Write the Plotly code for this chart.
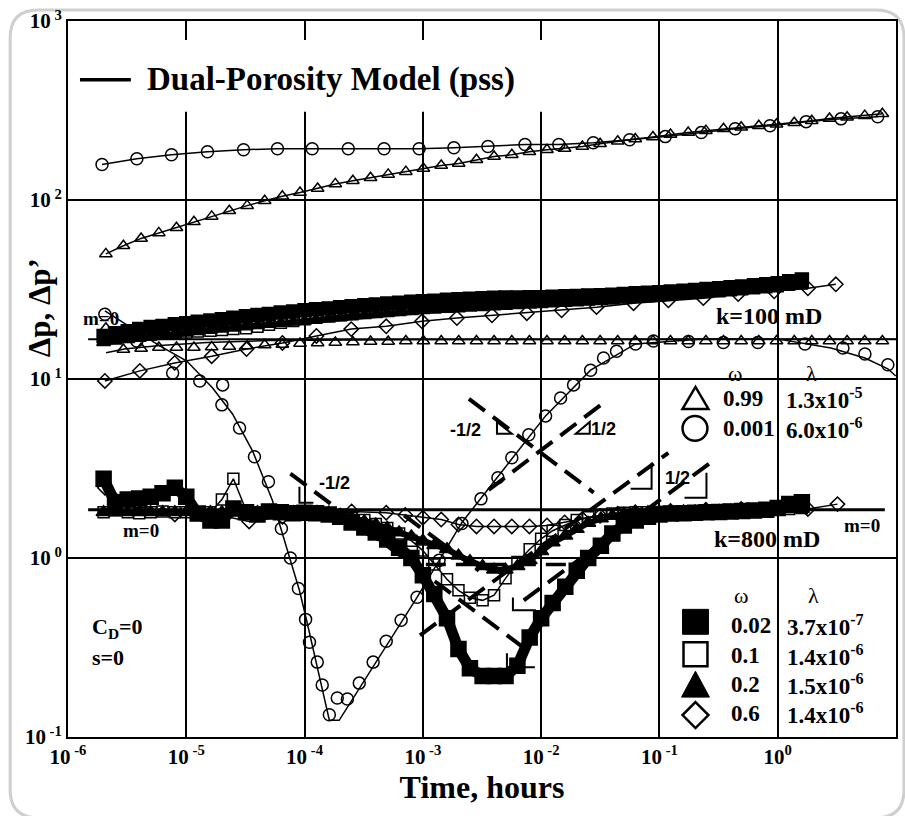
import plotly.graph_objects as go

# ---------------------------------------------------------------------------
# k = 100 mD runs
# ---------------------------------------------------------------------------
# omega = 0.99, lambda = 1.3e-5  (open triangles)
T_TRI = [2.09e-6, 2.94e-6, 4.15e-6, 5.86e-6, 8.26e-6, 1.16e-5, 1.64e-5, 2.31e-5,
         3.27e-5, 4.6e-5, 6.49e-5, 9.15e-5, 1.29e-4, 1.82e-4, 2.56e-4, 3.61e-4,
         5.09e-4, 7.18e-4, 1.01e-3, 1.43e-3, 2.01e-3, 2.84e-3, 4.0e-3, 5.65e-3,
         7.96e-3, 1.12e-2, 1.58e-2, 2.23e-2, 3.15e-2, 4.44e-2, 6.25e-2, 8.81e-2,
         0.124, 0.175, 0.247, 0.348, 0.491, 0.692, 0.977, 1.38, 1.94, 2.74, 3.86,
         5.44, 7.67]
DP_TRI_099 = [50, 55.5, 61, 65.5, 70, 75.5, 81, 87, 93, 99, 105, 110, 116, 123,
              128, 133, 139, 144, 150, 156, 160, 168, 175, 179, 186, 191, 194,
              199, 206, 213, 219, 225, 232, 238, 244, 250, 255, 260, 265, 270,
              277, 285, 290, 296, 303]
DER_TRI_099 = [19.2, 14.6, 14.8, 15.0, 15.0, 15.0, 15.1, 15.2, 15.3, 15.5, 15.6,
               15.8, 15.9, 16.0, 16.1, 16.2, 16.2, 16.3, 16.3, 16.3, 16.3, 16.3,
               16.3, 16.3, 16.3, 16.3, 16.3, 16.3, 16.3, 16.3, 16.3, 16.3, 16.3,
               16.3, 16.3, 16.3, 16.3, 16.3, 16.3, 16.3, 16.3, 16.3, 16.3, 16.3,
               16.3]
T_TRI_MODEL = [2.1e-6, 3.0e-6, 6.0e-6, 1.5e-5, 5.0e-5, 1.0e-3, 10.0]
DER_TRI_MODEL = [14.0, 14.7, 15.4, 16.0, 16.4, 16.6, 16.7]

# omega = 0.001, lambda = 6.0e-6  (open circles)
T_CIR_DP = [1.94e-6, 3.82e-6, 7.5e-6, 1.51e-5, 3.05e-5, 5.9e-5, 1.16e-4, 2.34e-4,
            4.7e-4, 9.3e-4, 1.83e-3, 3.55e-3, 7.3e-3, 1.41e-2, 2.76e-2, 5.6e-2,
            0.112, 0.226, 0.437, 0.86, 1.74, 3.43, 7.0]
DP_CIR_0001 = [158, 170, 179, 186, 191, 193.5, 193.5, 193.5, 193.5, 193.5, 196,
               199, 204, 204, 209, 217, 226, 238, 250, 260, 274, 284, 292]

T_CIR_DER = [2.05e-6, 3.82e-6, 7.67e-6, 1.3e-5, 2.0e-5, 2.03e-5, 2.82e-5, 3.77e-5,
             4.95e-5, 6.37e-5, 7.59e-5, 8.87e-5, 1.02e-4, 1.1e-4, 1.28e-4, 1.41e-4,
             1.62e-4, 1.89e-4, 2.3e-4, 2.9e-4, 3.8e-4, 4.9e-4, 6.55e-4, 8.93e-4,
             1.37e-3, 2.14e-3, 3.1e-3, 4.31e-3, 5.65e-3, 7.86e-3, 1.09e-2, 1.46e-2,
             1.88e-2, 2.62e-2, 3.37e-2, 4.34e-2, 6.28e-2, 8.9e-2, 0.176, 0.347,
             0.68, 1.70, 3.56, 5.46, 8.53]
DER_CIR_0001 = [23.0, 16.3, 10.8, 9.75, 7.17, 9.27, 5.33, 3.68, 2.67, 1.46, 1.0,
                0.676, 0.454, 0.338, 0.262, 0.195, 0.133, 0.165, 0.163, 0.2,
                0.262, 0.343, 0.449, 0.603, 0.97, 1.56, 2.14, 2.81, 3.63, 4.88,
                6.22, 7.84, 9.27, 11.2, 13.1, 14.3, 15.7, 16.3, 16.2, 16.0, 16.0,
                15.7, 14.9, 13.8, 12.0]
T_CIR_MODEL = [2.05e-6, 5.97e-6, 1.01e-5, 1.67e-5, 2.46e-5, 3.63e-5, 5.36e-5,
               7.44e-5, 9.04e-5, 1.04e-4, 1.62e-4, 1.96e-4, 8.93e-4, 2.14e-3,
               1.09e-2, 2.62e-2, 6.28e-2, 0.213, 1.01, 2.82, 5.46, 8.53, 9.95]
DER_CIR_MODEL = [24.0, 15.3, 12.6, 8.9, 6.38, 3.97, 2.09, 1.0, 0.66, 0.449,
                 0.124, 0.124, 0.603, 1.58, 6.22, 11.2, 15.7, 16.7, 16.7, 14.9,
                 13.1, 11.4, 10.4]

# ---------------------------------------------------------------------------
# k = 800 mD runs (shared time steps for the dense series)
# ---------------------------------------------------------------------------
T800 = [2e-6, 2.5e-6, 3.2e-6, 4e-6, 5e-6, 6.3e-6, 8e-6,
        1e-5, 1.25e-5, 1.6e-5, 2e-5, 2.5e-5, 3.2e-5, 4e-5, 5e-5, 6.3e-5, 8e-5,
        1e-4, 1.25e-4, 1.6e-4, 2e-4, 2.5e-4, 3.2e-4, 4e-4, 5e-4, 6.3e-4, 8e-4,
        1e-3, 1.25e-3, 1.6e-3, 2e-3, 2.5e-3, 3.2e-3, 4e-3, 5e-3, 6.3e-3, 8e-3,
        1e-2, 1.25e-2, 1.6e-2, 2e-2, 2.5e-2, 3.2e-2, 4e-2, 5e-2, 6.3e-2, 8e-2,
        0.1, 0.125, 0.16, 0.2, 0.25, 0.32, 0.4, 0.5, 0.63, 0.8,
        1.0, 1.25, 1.6]

# omega = 0.02, lambda = 3.7e-7 (filled squares)
DP_SQF_002 = [17.4, 18.0, 18.5, 19.0, 19.5, 19.8, 20.2,
              20.5, 20.9, 21.2, 21.6, 22.0, 22.4, 22.8, 23.1, 23.5, 23.8,
              24.2, 24.5, 24.8, 25.2, 25.5, 25.8, 26.1, 26.4, 26.7, 27.0,
              27.2, 27.4, 27.7, 27.9, 28.1, 28.3, 28.4, 28.5, 28.5, 28.6,
              28.6, 28.8, 29.0, 29.1, 29.3, 29.4, 29.6, 29.8, 30.1, 30.3,
              30.5, 30.8, 31.1, 31.4, 31.8, 32.1, 32.5, 32.9, 33.4, 33.8,
              34.3, 35.2, 36.0]
DER_SQF_002 = [2.77, 2.05, 2.12, 2.15, 2.2, 2.3, 2.47,
               2.2, 1.77, 1.62, 1.62, 1.89, 1.8, 1.75, 1.82, 1.8, 1.78,
               1.79, 1.78, 1.75, 1.70, 1.58, 1.48, 1.39, 1.27, 1.14, 1.0,
               0.8, 0.63, 0.46, 0.31, 0.242, 0.219, 0.219, 0.219, 0.25, 0.36,
               0.46, 0.56, 0.69, 0.85, 1.0, 1.17, 1.37, 1.52, 1.62, 1.7,
               1.75, 1.77, 1.78, 1.79, 1.8, 1.81, 1.82, 1.83, 1.84, 1.86,
               1.9, 2.0, 2.05]

# omega = 0.1, lambda = 1.4e-6 (open squares)
DP_SQO_01 = [16.8, 17.1, 17.3, 17.5, 17.7, 17.9, 18.0,
             18.2, 18.4, 18.6, 18.8, 19.0, 19.2, 19.6, 20.1, 20.6, 21.1,
             21.6, 22.0, 22.4, 22.8, 23.2, 23.6, 24.0, 24.3, 24.6, 24.9,
             25.2, 25.5, 25.7, 25.9, 26.1, 26.3, 26.5, 26.7, 26.9, 27.0,
             27.2, 27.4, 27.6, 27.8, 28.0, 28.3, 28.5, 28.7, 28.9, 29.1,
             29.4, 29.7, 30.0, 30.3, 30.6, 30.9, 31.3, 31.7, 32.1, 32.5,
             33.0, 33.6, 34.2]
DER_SQO_01 = [1.8, 1.85, 1.8, 1.78, 1.8, 1.82, 1.8,
              1.8, 1.78, 1.8, 2.12, 2.77, 1.85, 1.8, 1.8, 1.79, 1.79,
              1.79, 1.78, 1.77, 1.72, 1.68, 1.63, 1.55, 1.47, 1.37, 1.25,
              1.1, 0.92, 0.76, 0.66, 0.6, 0.58, 0.62, 0.77, 0.95, 1.12,
              1.28, 1.42, 1.53, 1.63, 1.69, 1.74, 1.77, 1.79, 1.8, 1.8,
              1.81, 1.81, 1.82, 1.82, 1.83, 1.83, 1.84, 1.84, 1.85, 1.86,
              1.87, 1.88, 1.9]

# omega = 0.2, lambda = 1.5e-6 (filled triangles)
DP_TRF_02 = [16.0, 16.3, 16.6, 16.9, 17.2, 17.5, 17.8,
             18.1, 18.4, 18.7, 19.0, 19.3, 19.6, 19.9, 20.2, 20.5, 20.8,
             21.1, 21.4, 21.7, 22.0, 22.3, 22.6, 22.9, 23.2, 23.5, 23.8,
             24.1, 24.3, 24.5, 24.7, 24.9, 25.1, 25.3, 25.5, 25.7, 25.9,
             26.1, 26.3, 26.5, 26.7, 26.9, 27.1, 27.3, 27.6, 27.9, 28.2,
             28.5, 28.8, 29.1, 29.4, 29.8, 30.2, 30.6, 31.0, 31.5, 32.0,
             32.5, 33.0, 33.5]
DER_TRF_02 = [1.8, 1.8, 1.8, 1.8, 1.8, 1.8, 1.8,
              1.8, 1.8, 1.8, 1.8, 1.8, 1.8, 1.8, 1.8, 1.8, 1.8,
              1.8, 1.8, 1.79, 1.74, 1.69, 1.6, 1.54, 1.47, 1.39, 1.32,
              1.25, 1.18, 1.12, 1.03, 0.96, 0.9, 0.86, 0.86, 0.9, 0.97,
              1.09, 1.22, 1.33, 1.45, 1.57, 1.66, 1.72, 1.76, 1.79, 1.8,
              1.81, 1.81, 1.82, 1.82, 1.83, 1.83, 1.84, 1.84, 1.85, 1.85,
              1.86, 1.87, 1.88]

# omega = 0.6, lambda = 1.4e-6 (open diamonds)
T_DIA_DP = [2.05e-6, 4.05e-6, 7.98e-6, 1.64e-5, 3.23e-5, 6.5e-5, 1.26e-4, 2.48e-4,
            4.9e-4, 9.84e-4, 1.94e-3, 3.84e-3, 7.57e-3, 1.49e-2, 2.94e-2, 6.04e-2,
            0.119, 0.235, 0.463, 0.933, 1.8, 3.1]
DP_DIA_06 = [9.75, 11.1, 12.3, 13.4, 14.7, 15.9, 17.4, 19.0, 19.7, 21.0, 21.9,
             22.7, 23.3, 24.2, 25.2, 26.5, 27.5, 28.3, 29.8, 30.9, 32.1, 33.8]
T_DIA_DER = [2.05e-6, 4.05e-6, 8e-6, 1.6e-5, 3.4e-5, 6.5e-5, 1.28e-4, 2.5e-4,
             4.9e-4, 7.1e-4, 1.0e-3, 1.43e-3, 2.0e-3, 2.84e-3, 4.0e-3, 5.65e-3,
             7.96e-3, 1.12e-2, 1.58e-2, 2.23e-2, 3.15e-2, 4.44e-2, 6.25e-2,
             0.124, 0.247, 0.491, 0.977, 1.8, 3.2]
DER_DIA_06 = [2.47, 1.94, 1.75, 1.78, 1.6, 1.7, 1.79, 1.82, 1.79, 1.74, 1.68,
              1.64, 1.54, 1.5, 1.5, 1.5, 1.5, 1.52, 1.58, 1.65, 1.72, 1.77, 1.8,
              1.83, 1.86, 1.88, 1.9, 1.88, 2.0]

# ---------------------------------------------------------------------------
# Straight-line flow-regime guides
# ---------------------------------------------------------------------------
M0_K100_T, M0_K100_V = [1.48e-6, 10.0], [16.7, 16.7]
M0_K800_T, M0_K800_V = [1.48e-6, 8.05], [1.86, 1.86]
HALF_GUIDES = {
    "neg_a": ([2.45e-3, 2.78e-2], [7.74, 2.32]),
    "pos_b": ([3.6e-3, 3.5e-2], [2.4, 7.5]),
    "pos_c": ([9.46e-4, 0.119], [0.37, 3.87]),
    "neg_d": ([7.59e-5, 8.0e-3], [2.96, 0.298]),
    "neg_e": ([6.95e-4, 2.98e-3], [1.73, 0.85]),
    "pos_f": ([7.13e-3, 0.269], [0.58, 3.4]),
}
FLAT_DASH_T, FLAT_DASH_V = [1.06e-3, 2.2e-2], [0.92, 0.92]

X_TICKS = [1e-6, 1e-5, 1e-4, 1e-3, 1e-2, 1e-1, 1e0, 1e1]
X_TICK_TEXT = ["10<sup> -6</sup>", "10<sup> -5</sup>", "10<sup> -4</sup>",
               "10<sup> -3</sup>", "10<sup> -2</sup>", "10<sup> -1</sup>",
               "10<sup>0</sup>", "10<sup> 1</sup>"]
Y_TICKS = [1e-1, 1e0, 1e1, 1e2, 1e3]
Y_TICK_TEXT = ["10<sup> -1</sup>", "10<sup> 0</sup>", "10<sup> 1</sup>",
               "10<sup> 2</sup>", "10<sup> 3</sup>"]

# ---------------------------------------------------------------------------
W, H = 905, 816
ML, MR, MT, MB = 68, 7, 19, 79
PW, PH = W - ML - MR, H - MT - MB
SERIF = "Liberation Serif"
SANS = "Liberation Sans"
INK = "black"


def px(x):
    return (x - ML) / PW


def py(y):
    return (H - MB - y) / PH


fig = go.Figure()


def markers(t, v, symbol, size, lw=1.5, line=None):
    mode = "markers" if line is None else "lines+markers"
    fig.add_trace(go.Scatter(
        x=t, y=v, mode=mode,
        marker=dict(symbol=symbol, size=size, color=INK,
                    line=dict(color=INK, width=lw)),
        line=dict(color=INK, width=line or 1),
        hoverinfo="skip"))


def guide(t, v, width=3, dash=None):
    fig.add_trace(go.Scatter(x=t, y=v, mode="lines",
                             line=dict(color=INK, width=width, dash=dash),
                             hoverinfo="skip"))


# guides under the data
guide(M0_K800_T, M0_K800_V, width=3)
guide(M0_K100_T, M0_K100_V, width=2)
guide(FLAT_DASH_T, FLAT_DASH_V, width=3.5, dash="20px,10px")
for t, v in HALF_GUIDES.values():
    guide(t, v, width=4, dash="20px,10px")

# k = 800 mD: pressure change and derivative
markers(T800, DP_SQF_002, "square", 13, line=9)
markers(T800, DP_TRF_02, "triangle-up", 12, line=6)
markers(T800, DP_SQO_01, "square-open", 11, line=1)
markers(T800, DER_SQF_002, "square", 15, line=11)
markers(T800, DER_TRF_02, "triangle-up", 13, line=6)
markers(T800, DER_SQO_01, "square-open", 11, line=1.5)
markers(T_DIA_DP, DP_DIA_06, "diamond-open", 11, line=1.5)
markers(T_DIA_DER, DER_DIA_06, "diamond-open", 11, line=1.5)

# k = 100 mD: pressure change and derivative
markers(T_TRI, DP_TRI_099, "triangle-up-open", 11, line=1.5)
markers(T_CIR_DP, DP_CIR_0001, "circle-open", 12, line=1.5)
guide(T_TRI_MODEL, DER_TRI_MODEL, width=1.5)
markers(T_TRI, DER_TRI_099, "triangle-up-open", 11)
guide(T_CIR_MODEL, DER_CIR_MODEL, width=1.5)
markers(T_CIR_DER, DER_CIR_0001, "circle-open", 12)

axis_common = dict(
    type="log", showgrid=True, gridcolor=INK, gridwidth=2,
    showline=True, linecolor=INK, linewidth=2, mirror=True,
    ticks="", zeroline=False,
    tickfont=dict(family=SERIF, size=21, color=INK, weight="bold"),
)
fig.update_xaxes(range=[-6, 1], tickvals=X_TICKS, ticktext=X_TICK_TEXT,
                 title=dict(text="Time, hours", standoff=2,
                            font=dict(family=SERIF, size=32, color=INK,
                                      weight="bold")),
                 **axis_common)
fig.update_yaxes(range=[-1, 3], tickvals=Y_TICKS, ticktext=Y_TICK_TEXT,
                 **axis_common)

shapes = []
# rounded frame around the figure
x0, y0, x1, y1, r = px(10), py(8), px(906), py(818), 28
rx, ry = r / PW, r / PH
frame = (f"M {x0 + rx},{y0} L {x1 - rx},{y0} Q {x1},{y0} {x1},{y0 - ry} "
         f"L {x1},{y1 + ry} Q {x1},{y1} {x1 - rx},{y1} L {x0 + rx},{y1} "
         f"Q {x0},{y1} {x0},{y1 + ry} L {x0},{y0 - ry} Q {x0},{y0} {x0 + rx},{y0} Z")
shapes.append(dict(type="path", path=frame, xref="paper", yref="paper",
                   line=dict(color="#cfcfcf", width=3), layer="below"))
# clear panel behind the model key
shapes.append(dict(type="rect", xref="paper", yref="paper",
                   x0=px(70), x1=px(546), y0=py(38), y1=py(110),
                   fillcolor="white", line=dict(width=0), layer="above"))
shapes.append(dict(type="line", xref="paper", yref="paper",
                   x0=px(80), x1=px(131), y0=py(78), y1=py(78),
                   line=dict(color=INK, width=3.5), layer="above"))


def outline(points, width=2, fill=None, closed=False):
    d = "M " + " L ".join(f"{px(a)},{py(b)}" for a, b in points)
    if closed:
        d += " Z"
    shapes.append(dict(type="path", path=d, xref="paper", yref="paper",
                       line=dict(color=INK, width=width),
                       fillcolor=fill or "rgba(0,0,0,0)", layer="above"))


# small slope-indicator ticks beside the half-slope guides
outline([(300, 486), (300, 502), (314, 502)])
outline([(498, 421), (498, 433), (513, 433)], closed=True)
outline([(591, 421), (591, 433), (577, 433)], closed=True)
outline([(653, 462), (653, 488), (632, 488)])
outline([(708, 472), (708, 497), (686, 497)])
outline([(514, 597), (514, 610), (537, 610)])
outline([(508, 653), (508, 667), (536, 667)])

# key symbols (k = 100 block)
outline([(684, 408), (710, 408), (697, 386)], width=2.5, closed=True)
shapes.append(dict(type="circle", xref="paper", yref="paper",
                   x0=px(684), x1=px(709), y0=py(415), y1=py(440),
                   line=dict(color=INK, width=2.5), layer="above"))
# key symbols (k = 800 block)
outline([(684, 609), (710, 609), (710, 634), (684, 634)], width=1,
        fill=INK, closed=True)
outline([(685, 642), (709, 642), (709, 666), (685, 666)], width=2.5,
        closed=True)
outline([(683, 697), (711, 697), (697, 671)], width=1, fill=INK, closed=True)
outline([(697, 702), (710, 715), (697, 728), (684, 715)], width=2.5,
        closed=True)

ann = []


def text(s, x, y, size=20, anchor="center", family=SERIF, bold=True, angle=0):
    ann.append(dict(text=s, x=px(x), y=py(y), xref="paper", yref="paper",
                    showarrow=False, xanchor=anchor, yanchor="middle",
                    textangle=angle,
                    font=dict(family=family, size=size, color=INK,
                              weight="bold" if bold else "normal")))


text("Dual-Porosity Model (pss)", 145, 78, size=33, anchor="left")
text("Δp, Δp’", 39, 307, size=31, angle=-90)

text("k=100 mD", 771, 315, size=24)
text("k=800 mD", 769, 538, size=24)

# k = 100 key
text("ω", 737, 372, size=22, bold=False)
text("λ", 813, 372, size=22, bold=False)
text("0.99", 723, 398, size=23, anchor="left")
text("0.001", 723, 428, size=23, anchor="left")
text("1.3x10<sup>-5</sup>", 786, 398, size=23, anchor="left")
text("6.0x10<sup>-6</sup>", 786, 428, size=23, anchor="left")

# k = 800 key
text("ω", 743, 595, size=22, bold=False)
text("λ", 815, 595, size=22, bold=False)
for s, y in [("0.02", 625), ("0.1", 655), ("0.2", 684), ("0.6", 713)]:
    text(s, 731, y, size=23, anchor="left")
for s, y in [("3.7x10<sup>-7</sup>", 625), ("1.4x10<sup>-6</sup>", 655),
             ("1.5x10<sup>-6</sup>", 684), ("1.4x10<sup>-6</sup>", 713)]:
    text(s, 787, y, size=23, anchor="left")

text("m=0", 101, 317, size=19)
text("m=0", 141, 530, size=19)
text("m=0", 864, 525, size=19)
text("C<sub>D</sub>=0", 90, 628, size=22, anchor="left")
text("s=0", 90, 657, size=22, anchor="left")

text("-1/2", 335, 482, size=18, family=SANS)
text("-1/2", 466, 429, size=18, family=SANS)
text("1/2", 605, 428, size=18, family=SANS)
text("1/2", 679, 477, size=18, family=SANS)

fig.update_layout(
    width=W, height=H, margin=dict(l=ML, r=MR, t=MT, b=MB),
    paper_bgcolor="white", plot_bgcolor="white", showlegend=False,
    shapes=shapes, annotations=ann,
)

fig.write_html("out.html")
